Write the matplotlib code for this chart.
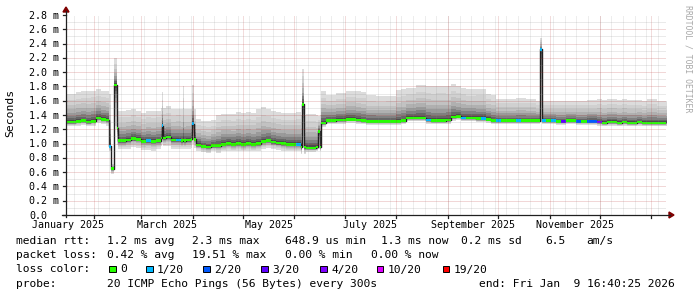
import datetime as dt
import matplotlib
matplotlib.use("Agg")
import matplotlib.pyplot as plt
from matplotlib.patches import Polygon, Rectangle
from matplotlib.lines import Line2D

W, H = 697, 297

# ---------------- data ----------------
# time axis: days since 2025-01-01
view_start_day = 14.04
view_end_day = 373.694          # Fri Jan 9 16:40:25 2026
bucket_start_day = 14.04
bucket_days = 3.0

# median RTT (ms) per 3-day bucket
median_ms = [
    1.30, 1.30, 1.31, 1.32, 1.30, 1.31, 1.36, 1.34, 1.33, 0.65,
    1.04, 1.04, 1.05, 1.07, 1.06, 1.03, 1.04, 1.03, 1.04, 1.08,
    1.09, 1.05, 1.05, 1.04, 1.05, 1.06, 0.98, 0.96, 0.95, 0.97,
    0.97, 0.99, 1.00, 0.99, 1.00, 0.99, 1.00, 0.99, 1.00, 1.03,
    1.04, 1.02, 1.01, 1.00, 0.99, 0.99, 0.99, 0.95, 0.94, 0.94,
    0.95, 1.29, 1.32, 1.32, 1.33, 1.33, 1.34, 1.34, 1.33, 1.32,
    1.31, 1.31, 1.31, 1.31, 1.31, 1.31, 1.31, 1.32, 1.36, 1.36,
    1.36, 1.36, 1.33, 1.32, 1.32, 1.32, 1.33, 1.37, 1.38, 1.36,
    1.36, 1.36, 1.35, 1.35, 1.34, 1.32, 1.32, 1.32, 1.32, 1.32,
    1.32, 1.32, 1.32, 1.32, 1.32, 1.32, 1.32, 1.32, 1.31, 1.31,
    1.32, 1.32, 1.31, 1.31, 1.31, 1.31, 1.30, 1.29, 1.30, 1.30,
    1.29, 1.30, 1.29, 1.29, 1.30, 1.29, 1.29, 1.29, 1.29, 1.29,
]

# smoke spread (ms) above / below the median, per 6-day block
smoke_up_ms = [
    0.40, 0.41, 0.43, 0.40, 0.40, 0.42, 0.42, 0.40, 0.42, 0.42,
    0.43, 0.44, 0.43, 0.36, 0.36, 0.43, 0.42, 0.44, 0.44, 0.48,
    0.44, 0.43, 0.44, 0.45, 0.48, 0.45, 0.36, 0.38, 0.40, 0.40,
    0.37, 0.35, 0.36, 0.44, 0.42, 0.46, 0.48, 0.49, 0.47, 0.42,
    0.40, 0.42, 0.36, 0.31, 0.31, 0.32, 0.31, 0.28, 0.28, 0.29,
    0.28, 0.29, 0.30, 0.32, 0.33, 0.32, 0.32, 0.31, 0.33, 0.30,
]
smoke_dn_ms = [
    0.06, 0.06, 0.06, 0.07, 0.08, 0.12, 0.12, 0.12, 0.13, 0.12,
    0.12, 0.12, 0.12, 0.08, 0.08, 0.10, 0.10, 0.10, 0.10, 0.10,
    0.10, 0.10, 0.10, 0.10, 0.06, 0.06, 0.05, 0.05, 0.05, 0.05,
    0.05, 0.05, 0.05, 0.05, 0.05, 0.05, 0.05, 0.05, 0.05, 0.05,
    0.05, 0.05, 0.05, 0.05, 0.05, 0.05, 0.05, 0.05, 0.05, 0.05,
    0.05, 0.05, 0.05, 0.05, 0.05, 0.05, 0.05, 0.05, 0.05, 0.05,
]

# buckets with packet loss (bucket index, lost pings out of 20)
loss_bucket = [16, 22, 46, 72, 79, 83, 86, 90, 95, 97, 99, 102, 104, 105, 106]
loss_count = [1, 1, 1, 1, 1, 1, 1, 1, 1, 1, 3, 2, 2, 2, 4]

# short spikes / dips (days since 2025-01-01)
event_start = [40.1, 41.3, 43.0, 44.4, 71.3, 83.9, 89.6, 155.5, 165.1, 297.9]
event_end = [41.3, 43.0, 44.4, 45.4, 72.2, 84.8, 90.5, 156.7, 166.0, 299.1]
event_median = [0.96, 0.65, 1.82, 1.22, 1.25, 1.05, 1.28, 1.55, 1.17, 2.32]
event_top = [1.70, 0.72, 2.20, 1.48, 1.72, 1.80, 1.82, 2.05, 1.38, 2.48]
event_low = [0.90, 0.57, 1.25, 0.98, 1.00, 0.93, 1.00, 0.95, 0.93, 1.30]
event_loss = [1, 0, 0, 0, 1, 0, 1, 0, 0, 1]

loss_levels = [0, 1, 2, 3, 4, 10, 19]
loss_labels = ["0", "1/20", "2/20", "3/20", "4/20", "10/20", "19/20"]
loss_colors = ["#26ff00", "#00b8ff", "#0059ff", "#5e00ff", "#7e00ff", "#dd00ff", "#ff0000"]

y_ticks = [0.0, 0.2, 0.4, 0.6, 0.8, 1.0, 1.2, 1.4, 1.6, 1.8, 2.0, 2.2, 2.4, 2.6, 2.8]
y_tick_labels = ["0.0", "0.2 m", "0.4 m", "0.6 m", "0.8 m", "1.0 m", "1.2 m", "1.4 m",
                 "1.6 m", "1.8 m", "2.0 m", "2.2 m", "2.4 m", "2.6 m", "2.8 m"]
x_label_months = [(2025, 1), (2025, 3), (2025, 5), (2025, 7), (2025, 9), (2025, 11)]
x_tick_labels = ["January 2025", "March 2025", "May 2025", "July 2025",
                 "September 2025", "November 2025"]

legend_rtt = [("median rtt:", 16), ("1.2 ms avg", 107), ("2.3 ms max", 192),
              ("648.9 us min", 285), ("1.3 ms now", 381), ("0.2 ms sd", 461),
              ("6.5", 545), ("am/s", 586)]
legend_loss = [("packet loss:", 16), ("0.42 % avg", 107), ("19.51 % max", 192),
               ("0.00 % min", 285), ("0.00 % now", 371)]
legend_probe = [("probe:", 16), ("20 ICMP Echo Pings (56 Bytes) every 300s", 107),
                ("end: Fri Jan  9 16:40:25 2026", 479)]
loss_box_x = [109, 146, 203, 261, 320, 377, 443]

# ---------------- build intervals ----------------
def loss_color(n):
    c = loss_colors[0]
    for lv, col in zip(loss_levels, loss_colors):
        if n >= lv:
            c = col
    return c

loss_map = dict(zip(loss_bucket, loss_count))
intervals = []
for i, m in enumerate(median_ms):
    s = bucket_start_day + i * bucket_days
    e = s + bucket_days
    j = i // 2
    intervals.append([s, e, m, m + smoke_up_ms[j], m - smoke_dn_ms[j], loss_map.get(i, 0)])

for es, ee, em, et, el, eloss in zip(event_start, event_end, event_median,
                                     event_top, event_low, event_loss):
    new = []
    for iv in intervals:
        s, e = iv[0], iv[1]
        if e <= es or s >= ee:
            new.append(iv)
            continue
        if s < es:
            new.append([s, es] + iv[2:])
        if e > ee:
            new.append([ee, e] + iv[2:])
    new.append([es, ee, em, et, el, eloss])
    intervals = sorted(new, key=lambda v: v[0])

edges = [iv[0] for iv in intervals] + [intervals[-1][1]]
med = [iv[2] for iv in intervals]
top = [iv[3] for iv in intervals]
low = [iv[4] for iv in intervals]

# ---------------- figure ----------------
plt.rcParams['font.family'] = ['DejaVu Sans Mono']
fig = plt.figure(figsize=(W / 100, H / 100), dpi=100)
fig.patch.set_facecolor('white')
ax = fig.add_axes([66 / W, (H - 215) / H, 600 / W, 200 / H])
ax.set_xlim(view_start_day, view_end_day)
ax.set_ylim(0, 2.8)
ax.axis('off')

fractions = [1.0, 0.78, 0.6, 0.45, 0.33, 0.23, 0.14, 0.07]
greys = ['#dcdcdc', '#d0d0d0', '#c2c2c2', '#b0b0b0', '#9a9a9a', '#808080', '#666666', '#4c4c4c']
for f, g in zip(fractions, greys):
    y1 = [m - (m - l) * f for m, l in zip(med, low)]
    y2 = [m + (t - m) * f for m, t in zip(med, top)]
    ax.fill_between(edges, y1 + [y1[-1]], y2 + [y2[-1]], step='post',
                    color=g, linewidth=0, zorder=1)

ax.step(edges, med + [med[-1]], where='post', color='#202020', lw=1.0, zorder=2)

band = 0.036
for iv in intervals:
    s, e, m = iv[0], iv[1], iv[2]
    ax.bar(s, band, bottom=m - band / 2, width=e - s, align='edge',
           color=loss_color(iv[5]), linewidth=0, zorder=3)

# grid
def day_of(y, mth, d=1):
    return (dt.date(y, mth, d) - dt.date(2025, 1, 1)).days

minor_c = '#8c8c8c'
major_c = '#b02020'
for k in range(1, 28):
    v = k * 0.1
    ax.axhline(v, color=major_c if k % 2 == 0 else minor_c, alpha=0.35, lw=0.72,
               ls=(0, (1, 1)), zorder=4)

week_days = [d for d in range(5, 380, 7) if view_start_day < d < view_end_day]
for d in week_days:
    ax.axvline(d, color=minor_c, alpha=0.3, lw=0.72, ls=(0, (1, 1)), zorder=4)
month_days = []
for y, mth in [(2025, m) for m in range(2, 13)] + [(2026, 1)]:
    d = day_of(y, mth)
    month_days.append(d)
    ax.axvline(d, color=major_c, alpha=0.3, lw=0.72, ls=(0, (1, 1)), zorder=4)

# ---------------- axes, arrows (pixel space) ----------------
def P(x, y):
    return (x / W, 1 - y / H)

def fline(xs, ys, color='#202020', lw=0.9):
    fig.add_artist(Line2D([x / W for x in xs], [1 - y / H for y in ys],
                          transform=fig.transFigure, color=color, lw=lw))

def dx(d):
    return 66 + (d - view_start_day) * 600 / (view_end_day - view_start_day)

fline([66, 66], [217, 11])
fline([62, 670], [215, 215])
for v in y_ticks:
    yy = 215 - v * 200 / 2.8
    fline([63, 66], [yy, yy])
for d in month_days:
    fline([dx(d), dx(d)], [215, 218])
fig.add_artist(Polygon([P(63, 12), P(69, 12), P(66, 7)], closed=True,
                       transform=fig.transFigure, color='#7f0000'))
fig.add_artist(Polygon([P(669, 212), P(669, 218), P(674, 215)], closed=True,
                       transform=fig.transFigure, color='#7f0000'))

# ---------------- text ----------------
def ftext(x, y, s, **kw):
    fig.text(x / W, 1 - y / H, s, **kw)

for v, lab in zip(y_ticks, y_tick_labels):
    yy = 215 - v * 200 / 2.8
    ftext(29, yy + 3.6, lab, fontsize=7.2, ha='left', va='baseline', color='black')

for (y, mth), lab in zip(x_label_months, x_tick_labels):
    d0 = day_of(y, mth)
    d1 = day_of(y + (mth == 12), mth % 12 + 1)
    ftext(dx((d0 + d1) / 2), 228, lab, fontsize=7.2, ha='center', va='baseline')

ftext(10, 113, "Seconds", fontsize=8.2, rotation=90, ha='center', va='center')
ftext(688, 5, "RRDTOOL / TOBI OETIKER", fontsize=5.9, rotation=270,
      ha='center', va='top', color='#a8a8a8')

LF = 8.1
for row, yb in [(legend_rtt, 244.3), (legend_loss, 258.4), (legend_probe, 286.6)]:
    for s, x in row:
        ftext(x, yb, s, fontsize=LF, ha='left', va='baseline')

ftext(16, 272.5, "loss color:", fontsize=LF, ha='left', va='baseline')
for bx, lab, col in zip(loss_box_x, loss_labels, loss_colors):
    fig.add_artist(Rectangle(P(bx, 272), 6.5 / W, 6.5 / H, transform=fig.transFigure,
                             facecolor=col, edgecolor='black', lw=0.7))
    ftext(bx + 11, 272.5, lab, fontsize=LF, ha='left', va='baseline')

fig.savefig("out.png", dpi=100, facecolor='white')
